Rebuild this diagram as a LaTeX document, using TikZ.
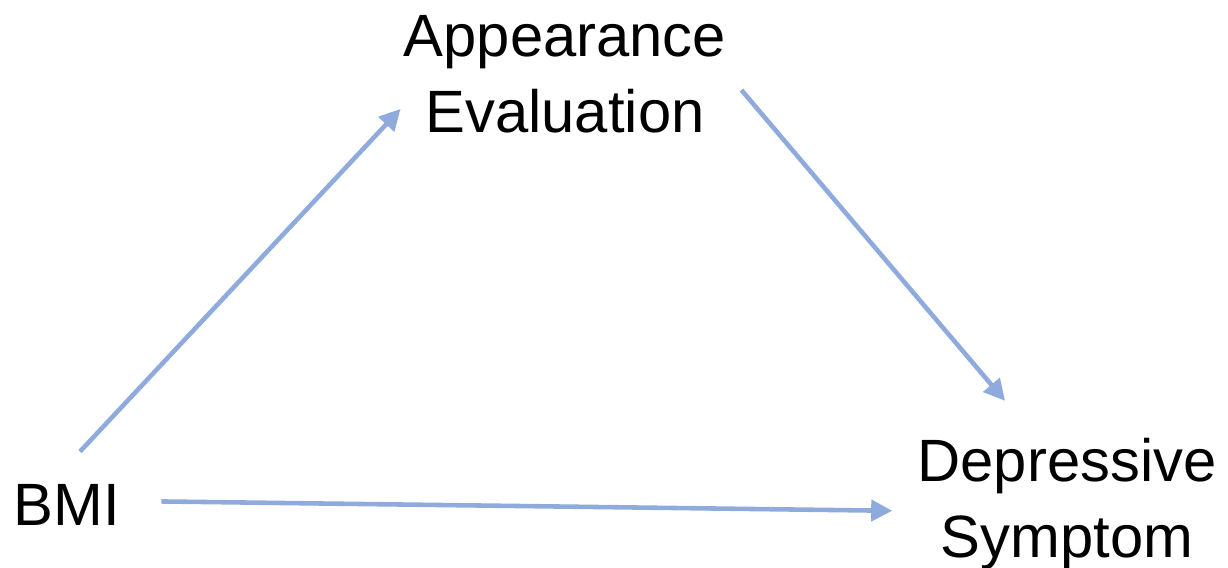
\documentclass[tikz,border=0pt]{standalone}
\usepackage{fontspec}
\setmainfont{Liberation Sans}
\usetikzlibrary{arrows.meta,calc}
\definecolor{arrblue}{HTML}{8FAADC}
\tikzset{>={Triangle[length=12pt,width=12pt]}}

\begin{document}
\begin{tikzpicture}[x=0.02cm,y=-0.02cm]

\tikzstyle{lab}=[inner sep=0pt,align=center,anchor=base,font=\fontsize{34}{43}\selectfont]
\tikzstyle{link}=[->,draw=arrblue,fill=arrblue,line width=2.6pt]

  \useasboundingbox (0,0) rectangle (1228,568);

  \node[lab] (bmi) at (67,525) {BMI};
  \node[lab] (app) at (565,132) {Appearance\\ Evaluation};
  \node[lab] (dep) at (1067,557) {Depressive\\ Symptom};

  \draw[link] ($(bmi.north)+(13,-32)$) -- ($(app.west)+(-3,35)$);
  \draw[link] ($(app.north east)+(15,75)$) -- ($(dep.north)+(-62,-37)$);
  \draw[link] ($(bmi.east)+(41,-3)$) -- ($(dep.west)+(-25,7)$);

\end{tikzpicture}
\end{document}
